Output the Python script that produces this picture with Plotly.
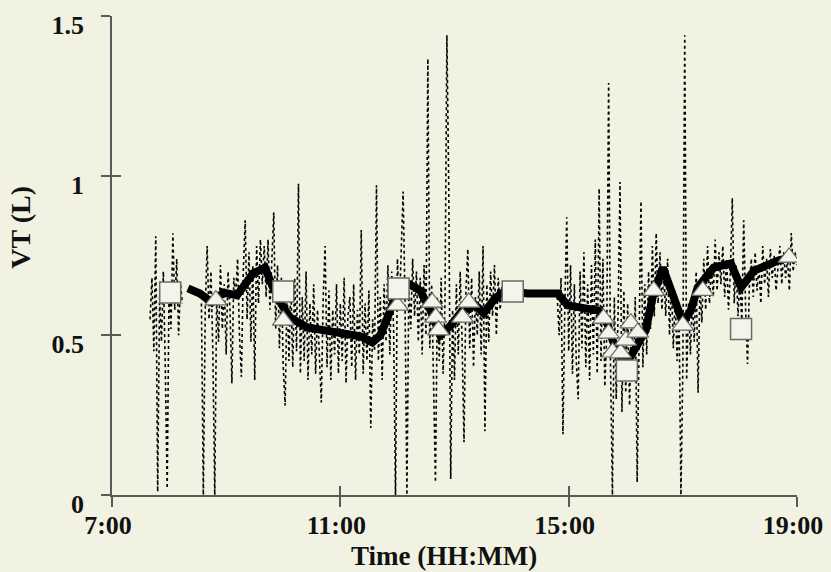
import plotly.graph_objects as go

# ---------------- data ----------------
# raw breath-by-breath VT samples, every 2 minutes from 7:40 to 19:00 (hours)
raw_start_h = 7 + 40 / 60
raw_step_h = 2 / 60
raw_vt = [
    # 7:40
    0.55, 0.68, 0.45, 0.81, 0.01, 0.62, 0.48, 0.70, 0.40, 0.02, 0.66, 0.52, 0.82, 0.58, 0.74,
    # 8:10
    0.50, 0.66, 0.60, None, None, None, None, None, None, None, None, None, 0.60, 0.00, 0.58,
    # 8:40
    0.78, 0.55, 0.70, 0.45, 0.00, 0.62, 0.48, 0.72, 0.52, 0.66, 0.44, 0.70, 0.58, 0.35, 0.68,
    # 9:10
    0.62, 0.74, 0.50, 0.37, 0.70, 0.86, 0.55, 0.76, 0.48, 0.72, 0.36, 0.78, 0.60, 0.80, 0.66,
    # 9:40
    0.78, 0.62, 0.80, 0.58, 0.74, 0.885, 0.52, 0.72, 0.46, 0.68, 0.40, 0.28, 0.64, 0.42, 0.66,
    # 10:10
    0.40, 0.68, 0.45, 0.975, 0.38, 0.62, 0.42, 0.70, 0.36, 0.60, 0.44, 0.66, 0.38, 0.58, 0.42,
    # 10:40
    0.29, 0.62, 0.78, 0.40, 0.64, 0.36, 0.58, 0.44, 0.66, 0.38, 0.60, 0.42, 0.68, 0.35, 0.56,
    # 11:10
    0.62, 0.40, 0.66, 0.36, 0.58, 0.44, 0.83, 0.38, 0.60, 0.42, 0.64, 0.21, 0.55, 0.45, 0.97,
    # 11:40
    0.42, 0.62, 0.36, 0.66, 0.48, 0.72, 0.44, 0.70, 0.52, 0.00, 0.74, 0.58, 0.76, 0.95, 0.60,
    # 12:10
    0.00, 0.66, 0.52, 0.74, 0.56, 0.70, 0.48, 0.68, 0.44, 0.72, 0.50, 1.366, 0.46, 0.66, 0.40,
    # 12:40
    0.04, 0.62, 0.42, 0.68, 0.38, 0.60, 1.44, 0.95, 0.05, 0.58, 0.36, 0.66, 0.44, 0.70, 0.48,
    # 13:10
    0.165, 0.64, 0.77, 0.46, 0.68, 0.40, 0.62, 0.50, 0.70, 0.44, 0.78, 0.20, 0.66, 0.48, 0.70,
    # 13:40
    0.56, 0.72, 0.50, 0.68, 0.58, 0.66, None, None, None, None, None, None, None, None, None,
    # 14:10
    None, None, None, None, None, None, None, None, None, None, None, None, None, None, None,
    # 14:40
    None, None, None, None, 0.62, 0.50, 0.68, 0.19, 0.60, 0.87, 0.45, 0.72, 0.38, 0.66, 0.42,
    # 15:10
    0.30, 0.70, 0.46, 0.76, 0.40, 0.66, 0.36, 0.72, 0.44, 0.80, 0.38, 0.96, 0.42, 0.74, 0.34,
    # 15:40
    0.50, 1.29, 0.40, 0.00, 0.62, 0.30, 0.58, 0.98, 0.26, 0.64, 0.32, 0.60, 0.28, 0.56, 0.36,
    # 16:10
    0.62, 0.04, 0.58, 0.92, 0.40, 0.66, 0.44, 0.70, 0.52, 0.78, 0.56, 0.82, 0.60, 0.76, 0.58,
    # 16:40
    0.70, 0.56, 0.74, 0.50, 0.66, 0.46, 0.62, 0.42, 0.58, 0.00, 0.40, 1.44, 0.36, 0.60, 0.44,
    # 17:10
    0.62, 0.48, 0.70, 0.32, 0.66, 0.54, 0.74, 0.58, 0.78, 0.60, 0.72, 0.62, 0.80, 0.64, 0.76,
    # 17:40
    0.66, 0.78, 0.62, 0.74, 0.58, 0.70, 0.93, 0.60, 0.72, 0.56, 0.68, 0.54, 0.86, 0.58, 0.41,
    # 18:10
    0.66, 0.74, 0.62, 0.76, 0.64, 0.72, 0.60, 0.78, 0.66, 0.74, 0.62, 0.77, 0.68, 0.75, 0.64,
    # 18:40
    0.70, 0.78, 0.66, 0.76, 0.68, 0.74, 0.64, 0.82, 0.70, 0.76, 0.72,
]
raw_time = [raw_start_h + i * raw_step_h for i in range(len(raw_vt))]

# smoothed trend (hours, litres)
trend_time = [8.33, 8.54, 8.75, 8.95, 9.19, 9.47, 9.68, 9.82, 10.0, 10.12, 10.42, 10.74,
              11.09, 11.35, 11.56, 11.70, 11.84, 11.98, 12.19, 12.40, 12.58, 12.75, 12.93,
              13.14, 13.37, 13.51, 13.68, 13.81, 14.02, 14.28, 14.81, 14.98, 15.51, 15.65,
              15.77, 15.91, 16.05, 16.21, 16.35, 16.47, 16.65, 16.84, 17.0, 17.14, 17.26,
              17.54, 17.84, 18.02, 18.25, 18.67, 18.89]
trend_vt = [0.647, 0.631, 0.603, 0.634, 0.625, 0.694, 0.712, 0.65, 0.588, 0.556, 0.525, 0.516,
            0.506, 0.497, 0.478, 0.50, 0.562, 0.631, 0.662, 0.64, 0.578, 0.50, 0.53,
            0.578, 0.594, 0.569, 0.609, 0.631, 0.637, 0.631, 0.631, 0.594, 0.578, 0.553,
            0.484, 0.428, 0.422, 0.469, 0.516, 0.619, 0.712, 0.619, 0.54, 0.578, 0.65,
            0.712, 0.725, 0.65, 0.703, 0.734, 0.744]

# triangles
tri_time = [8.82, 10.0, 12.0, 12.61, 12.67, 12.72, 13.14, 13.25, 15.61, 15.70, 15.77,
            15.91, 16.0, 16.09, 16.21, 16.49, 17.0, 17.35, 18.86]
tri_vt = [0.61, 0.547, 0.594, 0.603, 0.556, 0.516, 0.556, 0.603, 0.553, 0.506, 0.447,
          0.444, 0.484, 0.538, 0.509, 0.64, 0.531, 0.64, 0.744]

# squares
sq_time = [8.02, 10.0, 12.02, 14.02, 16.02, 18.02]
sq_vt = [0.634, 0.6375, 0.647, 0.6375, 0.39, 0.52]

x_tickvals = [7, 11, 15, 19]
x_ticktext = ["7:00", "11:00", "15:00", "19:00"]
y_tickvals = [0, 0.5, 1, 1.5]
y_ticktext = ["0", "0.5", "1", "1.5"]

# ---------------- figure ----------------
BG = "#f2f2e3"
AX = "#5a5a5a"
FONT = "Liberation Serif, Times New Roman, serif"
FILL = "#f4f4ea"
TXT = "#111111"

fig = go.Figure()
fig.add_trace(go.Scatter(x=raw_time, y=raw_vt, mode="lines", connectgaps=False,
                         line=dict(color="black", width=1.6, dash="dot"),
                         hoverinfo="skip", showlegend=False))
fig.add_trace(go.Scatter(x=trend_time, y=trend_vt, mode="lines",
                         line=dict(color="black", width=8),
                         showlegend=False))
fig.add_trace(go.Scatter(x=tri_time, y=tri_vt, mode="markers",
                         marker=dict(symbol="triangle-up", size=19, color=FILL,
                                     line=dict(color="#6a6a6a", width=1.2)),
                         showlegend=False))
fig.add_trace(go.Scatter(x=sq_time, y=sq_vt, mode="markers",
                         marker=dict(symbol="square", size=21, color=FILL,
                                     line=dict(color="#6a6a6a", width=1.5)),
                         showlegend=False))
# invisible trace to host the inner-tick overlay axes
fig.add_trace(go.Scatter(x=sq_time, y=sq_vt, xaxis="x2", yaxis="y2", mode="markers",
                         marker=dict(opacity=0), hoverinfo="skip", showlegend=False))

tickfont = dict(family=FONT, size=26, color=TXT, weight="bold")

fig.update_layout(
    width=831, height=572,
    margin=dict(l=112, r=34, t=16, b=77, autoexpand=False),
    paper_bgcolor=BG, plot_bgcolor=BG,
    font=dict(family=FONT),
    xaxis=dict(range=[7, 19], tickvals=x_tickvals, ticktext=x_ticktext, automargin=False,
               showgrid=False, zeroline=False, showline=True, linecolor=AX, linewidth=1.5,
               ticks="outside", ticklen=10, tickwidth=1.5, tickcolor=AX,
               tickfont=tickfont, ticklabelstandoff=-4, ticklabelshift=-4,
               ticklabeloverflow="allow"),
    yaxis=dict(range=[0, 1.5], tickvals=y_tickvals, ticktext=y_ticktext, automargin=False,
               showgrid=False, zeroline=False, showline=True, linecolor=AX, linewidth=1.5,
               ticks="outside", ticklen=9, tickwidth=1.5, tickcolor=AX,
               tickfont=tickfont, ticklabelstandoff=12, ticklabelshift=9,
               ticklabeloverflow="allow"),
    xaxis2=dict(range=[7, 19], overlaying="x", anchor="y", side="bottom", automargin=False,
                tickvals=x_tickvals[1:], showticklabels=False, showgrid=False,
                zeroline=False, showline=False, ticks="inside", ticklen=9,
                tickwidth=1.5, tickcolor=AX),
    yaxis2=dict(range=[0, 1.5], overlaying="y", anchor="x", side="left", automargin=False,
                tickvals=y_tickvals[1:], showticklabels=False, showgrid=False,
                zeroline=False, showline=False, ticks="inside", ticklen=9,
                tickwidth=1.5, tickcolor=AX),
    annotations=[
        dict(text="VT (L)", xref="paper", yref="paper", x=-0.133, y=0.56,
             textangle=-90, showarrow=False, xanchor="center", yanchor="middle",
             font=dict(family=FONT, size=28, color=TXT, weight="bold")),
        dict(text="Time (HH:MM)", xref="paper", yref="paper", x=0.484, y=-0.163,
             showarrow=False, xanchor="center", yanchor="bottom",
             font=dict(family=FONT, size=27, color=TXT, weight="bold")),
    ],
)

fig.write_html("out.html", config={"displayModeBar": False},
               post_script="document.body.style.margin='0';"
                           "document.body.style.background='" + BG + "';")
